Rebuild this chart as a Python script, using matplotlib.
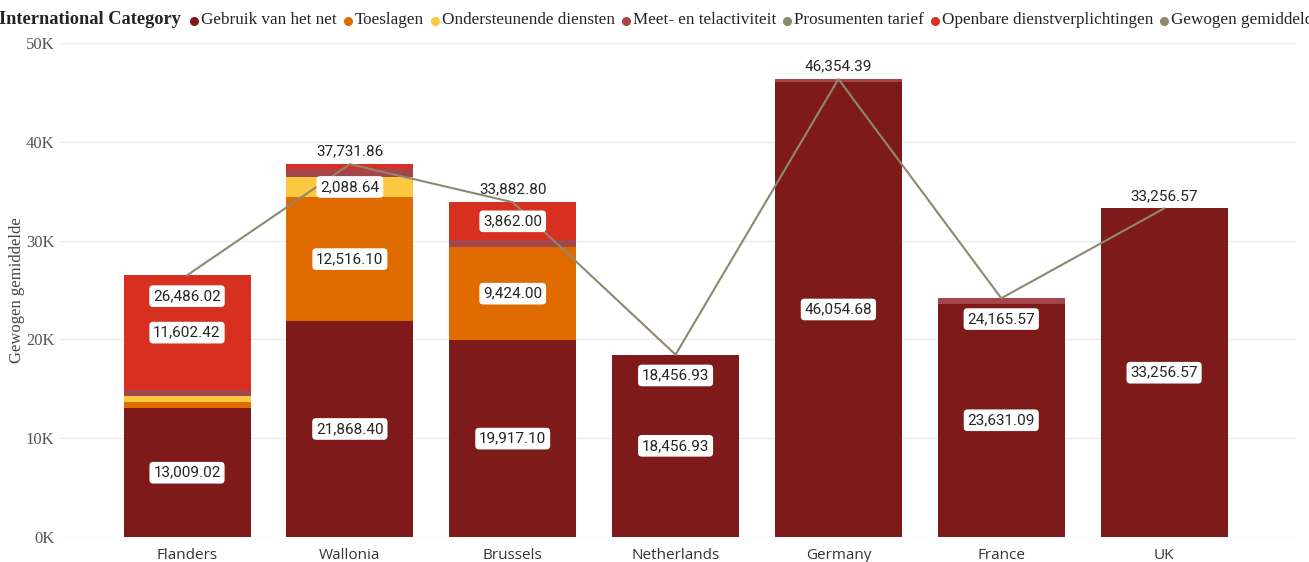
import matplotlib
matplotlib.use("Agg")
import matplotlib.pyplot as plt
from matplotlib.lines import Line2D
import numpy as np

# ---- data -------------------------------------------------------------
categories = ["Flanders", "Wallonia", "Brussels", "Netherlands", "Germany", "France", "UK"]

gebruik_van_het_net = [13009.02, 21868.40, 19917.10, 18456.93, 46054.68, 23631.09, 33256.57]
toeslagen = [640.00, 12516.10, 9424.00, 0, 0, 0, 0]
ondersteunende_diensten = [660.00, 2088.64, 0, 0, 0, 0, 0]
meet_en_telactiviteit = [574.58, 780.00, 679.70, 0, 299.71, 534.48, 0]
prosumenten_tarief = [0, 0, 0, 0, 0, 0, 0]
openbare_dienstverplichtingen = [11602.42, 478.72, 3862.00, 0, 0, 0, 0]
gewogen_gemiddelde = [26486.02, 37731.86, 33882.80, 18456.93, 46354.39, 24165.57, 33256.57]

series_names = ["Gebruik van het net", "Toeslagen", "Ondersteunende diensten",
                "Meet- en telactiviteit", "Prosumenten tarief",
                "Openbare dienstverplichtingen"]
series_values = [gebruik_van_het_net, toeslagen, ondersteunende_diensten,
                 meet_en_telactiviteit, prosumenten_tarief,
                 openbare_dienstverplichtingen]
line_name = "Gewogen gemiddelde"
legend_title = "International Category"

y_ticks = [0, 10000, 20000, 30000, 40000, 50000]
y_tick_labels = ["0K", "10K", "20K", "30K", "40K", "50K"]

# ---- style ------------------------------------------------------------
series_colors = ["#7f1a1b", "#e06c00", "#fcc83f", "#a3464c", "#8c8a6c", "#d83020"]
line_color = "#8e8872"
text_dark = "#252423"
serif = ["Liberation Serif", "DejaVu Serif"]
label_font = ["Roboto", "DejaVu Sans"]
box = dict(boxstyle="round,pad=0.25,rounding_size=0.25", fc="white", ec="none")

W, H = 1309, 562
fig = plt.figure(figsize=(W / 100, H / 100), dpi=100)
ax_left, ax_right = 60, 1296
ax_top, ax_bottom = 43, 537
ax = fig.add_axes([ax_left / W, 1 - ax_bottom / H,
                   (ax_right - ax_left) / W, (ax_bottom - ax_top) / H])

x = np.arange(len(categories))
bar_w = 0.78
bottom = np.zeros(len(categories))
for name, vals, col in zip(series_names, series_values, series_colors):
    vals = np.asarray(vals, dtype=float)
    ax.bar(x, vals, bar_w, bottom=bottom, color=col, zorder=2, linewidth=0)
    for xi, b, v in zip(x, bottom, vals):
        if v >= 1500:
            ax.text(xi, b + v / 2, f"{v:,.2f}", ha="center", va="center",
                    fontsize=11, family=label_font, color=text_dark, zorder=5,
                    bbox=box)
    bottom += vals

ax.plot(x, gewogen_gemiddelde, color=line_color, lw=1.5, zorder=3)

# line labels: below the point where the line rises afterwards, otherwise above
n = len(gewogen_gemiddelde)
for i, v in enumerate(gewogen_gemiddelde):
    nxt = gewogen_gemiddelde[i + 1] if i + 1 < n else None
    prv = gewogen_gemiddelde[i - 1] if i > 0 else None
    below = (nxt is not None and nxt > v) or (nxt is None and prv is not None and prv > v)
    if below:
        ax.annotate(f"{v:,.2f}", (x[i], v), xytext=(0, -15), textcoords="offset points",
                    ha="center", va="center", fontsize=11, family=label_font,
                    color=text_dark, zorder=6, bbox=box)
    else:
        ax.annotate(f"{v:,.2f}", (x[i], v), xytext=(0, 9), textcoords="offset points",
                    ha="center", va="center", fontsize=11, family=label_font,
                    color=text_dark, zorder=6)

ax.set_xlim(-0.78, n - 1 + 0.81)
ax.set_ylim(0, 50000)
ax.set_yticks(y_ticks)
ax.set_yticklabels(y_tick_labels, family=serif, fontsize=12, color="#555555")
ax.set_xticks(x)
ax.set_xticklabels(categories, family=["Open Sans", "DejaVu Sans"], fontsize=11,
                   color="#333333")
ax.tick_params(axis="both", length=0)
ax.tick_params(axis="y", pad=4)
ax.tick_params(axis="x", pad=8)
ax.grid(axis="y", color="#ececec", lw=1, zorder=0)
for s in ax.spines.values():
    s.set_visible(False)
ax.set_ylabel("Gewogen gemiddelde", family=serif, fontsize=12, color="#444444")
ax.yaxis.set_label_coords(-0.0285, 0.5)

# ---- legend across the top, drawn as a flowing row ----------------------
fig.canvas.draw()
renderer = fig.canvas.get_renderer()
legend_y = 1 - 20 / H
cursor = -1
t = fig.text(cursor / W, legend_y, legend_title, family=serif, fontsize=13.2,
             fontweight="bold", color=text_dark, va="center", ha="left")
cursor += t.get_window_extent(renderer).width + 10
entries = list(zip(series_names, series_colors)) + [(line_name, line_color)]
for name, col in entries:
    fig.lines.append(Line2D([(cursor + 3) / W], [legend_y - 0.5 / H],
                            marker="o", markersize=5.5, color=col,
                            transform=fig.transFigure))
    cursor += 10
    t = fig.text(cursor / W, legend_y, name, family=serif, fontsize=12.3,
                 color=text_dark, va="center", ha="left")
    cursor += t.get_window_extent(renderer).width + 8

fig.savefig("out.png", dpi=100)
